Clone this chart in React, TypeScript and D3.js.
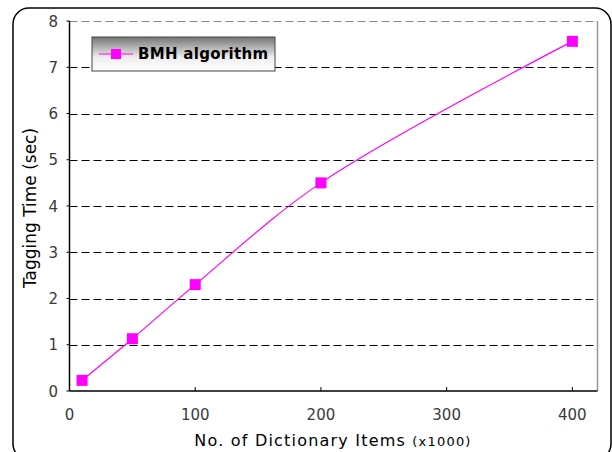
import React from "react";
import * as d3 from "d3";

const xValues = [10, 50, 100, 200, 400];
const yValues = [0.23, 1.13, 2.3, 4.5, 7.56];
const seriesName = "BMH algorithm";
const xTicks = [0, 100, 200, 300, 400];
const yTicks = [0, 1, 2, 3, 4, 5, 6, 7, 8];
const xTitle = "No. of Dictionary Items ";
const xTitleSmall = "(x1000)";
const yTitle = "Tagging Time (sec)";

const W = 612;
const H = 452;
const plot = { left: 69.5, right: 597.5, top: 21, bottom: 391 };
const COLOR = "#FF00FF";
const FONT = "'DejaVu Sans', Verdana, sans-serif";

export default function App() {
  const x = d3.scaleLinear().domain([0, 420]).range([plot.left, plot.right]);
  const y = d3.scaleLinear().domain([0, 8]).range([plot.bottom, plot.top]);
  const pts: [number, number][] = xValues.map((v, i) => [x(v), y(yValues[i])]);
  const line = d3.line().curve(d3.curveCatmullRom.alpha(0.5))(pts) || "";
  const ms = 11;

  return (
    <svg
      width={W}
      height={H}
      style={{ position: "absolute", left: 0, top: 0, background: "#fff" }}
      fontFamily={FONT}
    >
      <defs>
        <linearGradient id="lg" x1="0" y1="0" x2="0" y2="1">
          <stop offset="0" stopColor="#747474" />
          <stop offset="0.6" stopColor="#eeeeee" />
          <stop offset="1" stopColor="#ffffff" />
        </linearGradient>
      </defs>
      <rect x={13} y={8} width={598} height={452} rx={16} ry={16} fill="#fff" stroke="#000" strokeWidth={1.5} />
      {/* plot border gray */}
      <line x1={plot.right} x2={plot.right} y1={plot.top} y2={plot.bottom} stroke="#999" strokeWidth={1.5} />
      {/* gridlines */}
      {yTicks.filter((t) => t > 0).map((t) => (
        <line
          key={t}
          x1={plot.left}
          x2={plot.right}
          y1={Math.round(y(t)) + 0.5}
          y2={Math.round(y(t)) + 0.5}
          stroke={t === 8 ? "#888" : "#000"}
          strokeWidth={1}
          strokeDasharray="8,4"
        />
      ))}
      {/* axes */}
      <line x1={plot.left} x2={plot.left} y1={plot.top} y2={plot.bottom} stroke="#000" strokeWidth={1.5} />
      <line x1={plot.left} x2={plot.right} y1={plot.bottom} y2={plot.bottom} stroke="#000" strokeWidth={1.5} />
      {yTicks.map((t) => (
        <line key={"yt" + t} x1={plot.left - 3} x2={plot.left} y1={y(t)} y2={y(t)} stroke="#000" />
      ))}
      {xTicks.map((t) => (
        <line key={"xt" + t} x1={x(t)} x2={x(t)} y1={plot.bottom} y2={plot.bottom - 4} stroke="#000" />
      ))}
      {/* tick labels */}
      {yTicks.map((t) => (
        <text key={"yl" + t} x={58} y={y(t) + 5.5} textAnchor="end" fontSize={15} fill="#3a3a3a">
          {t}
        </text>
      ))}
      {xTicks.map((t) => (
        <text key={"xl" + t} x={x(t)} y={420} textAnchor="middle" fontSize={15} fill="#3a3a3a">
          {t}
        </text>
      ))}
      {/* titles */}
      <text x={333} y={446} textAnchor="middle" fontSize={16} letterSpacing={1.2} fill="#000">
        {xTitle}
        <tspan fontSize={13}>{xTitleSmall}</tspan>
      </text>
      <text
        transform={`translate(36, 208) rotate(-90)`}
        textAnchor="middle"
        fontSize={17}
        fill="#000"
      >
        {yTitle}
      </text>
      {/* series */}
      <path d={line} fill="none" stroke={COLOR} strokeWidth={1.2} />
      {pts.map(([px, py], i) => (
        <rect key={i} x={px - ms / 2} y={py - ms / 2} width={ms} height={ms} fill={COLOR} />
      ))}
      {/* legend */}
      <rect x={92} y={37} width={183} height={34} fill="url(#lg)" stroke="#444" strokeWidth={1} />
      <line x1={99} x2={133} y1={54} y2={54} stroke={COLOR} strokeWidth={1.2} />
      <rect x={116 - 5} y={54 - 5} width={10} height={10} fill={COLOR} />
      <text x={138} y={59} fontSize={15} fontWeight="bold" letterSpacing={0.3} fill="#000">
        {seriesName}
      </text>
    </svg>
  );
}
